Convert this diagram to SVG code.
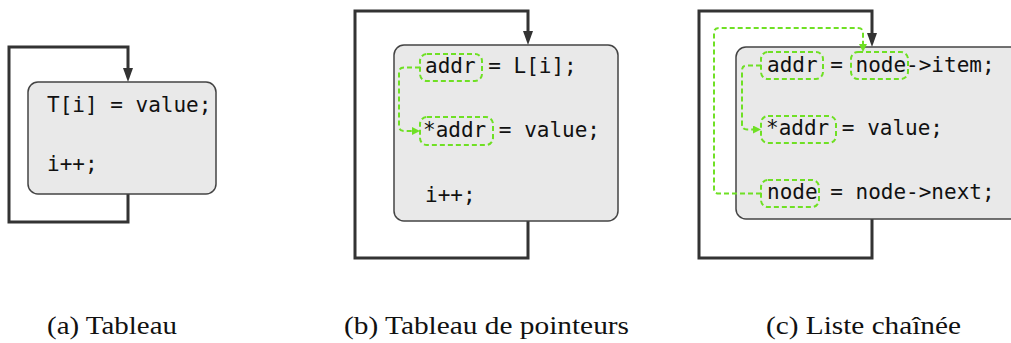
<svg xmlns="http://www.w3.org/2000/svg" width="1011" height="343" viewBox="0 0 1011 343">
<style>
.loop{fill:none;stroke:#333;stroke-width:3}
.box{fill:#e9e9e9;stroke:#444;stroke-width:1.5}
.code{font-family:"DejaVu Sans Mono",monospace;font-size:21px;fill:#111}
.hl{fill:none;stroke:#6fe024;stroke-width:2;stroke-dasharray:5 3}
.link{fill:none;stroke:#6fe024;stroke-width:2;stroke-dasharray:5 3}
.cap{font-family:"Liberation Serif",serif;font-size:25px;fill:#111}
</style>
<defs>
<marker id="ah" markerUnits="userSpaceOnUse" markerWidth="14" markerHeight="10" refX="4" refY="5" orient="auto">
<path d="M0,0 L14,5 L0,10 z" fill="#333"/>
</marker>
<marker id="gh" markerUnits="userSpaceOnUse" markerWidth="8" markerHeight="8" refX="2" refY="4" orient="auto">
<path d="M0,0 L8,4 L0,8 z" fill="#6fe024"/>
</marker>
</defs>
<g id="connectors">
<path class="loop" d="M128,194 V222 H9 V47 H128 V72" marker-end="url(#ah)"/>
<path class="loop" d="M528,221 V258 H355 V11 H528 V35" marker-end="url(#ah)"/>
<path class="loop" d="M872,219 V258 H699 V11 H872 V37" marker-end="url(#ah)"/>
</g>
<g id="node-a">
<rect class="box" x="28" y="82" width="188" height="112" rx="10"/>
<text class="code" x="47" y="112">T[i] = value;</text>
<text class="code" x="47" y="171">i++;</text>
</g>
<g id="node-b">
<rect class="box" x="394" y="45" width="224" height="176" rx="10"/>
<text class="code" x="425" y="73">addr = L[i];</text>
<text class="code" x="423" y="137">*addr = value;</text>
<text class="code" x="425" y="202">i++;</text>
<rect class="hl" x="420" y="54" width="62" height="27" rx="7"/>
<rect class="hl" x="420" y="117" width="73" height="28" rx="7"/>
<path class="link" d="M420,67.5 H404 Q399,67.5 399,72.5 V126 Q399,131 404,131 H414" marker-end="url(#gh)"/>
</g>
<g id="node-c">
<rect class="box" x="736" y="47" width="300" height="172" rx="10"/>
<text class="code" x="767" y="72">addr = node->item;</text>
<text class="code" x="766" y="135">*addr = value;</text>
<text class="code" x="767" y="199">node = node->next;</text>
<rect class="hl" x="761" y="52" width="62" height="27" rx="7"/>
<rect class="hl" x="851" y="52" width="57" height="27" rx="7"/>
<rect class="hl" x="761" y="116" width="75" height="27" rx="7"/>
<rect class="hl" x="761" y="180" width="58" height="27" rx="7"/>
<path class="link" d="M761,65.5 H747 Q742,65.5 742,70.5 V124.5 Q742,129.5 747,129.5 H755" marker-end="url(#gh)"/>
<path class="link" d="M761,193.5 H719 Q714,193.5 714,188.5 V33 Q714,28 719,28 H858 Q863,28 863,33 V46" marker-end="url(#gh)"/>
</g>
<g id="captions">
<text class="cap" x="47" y="334" textLength="130" lengthAdjust="spacingAndGlyphs">(a) Tableau</text>
<text class="cap" x="344" y="334" textLength="285" lengthAdjust="spacingAndGlyphs">(b) Tableau de pointeurs</text>
<text class="cap" x="766" y="334" textLength="195" lengthAdjust="spacingAndGlyphs">(c) Liste chaînée</text>
</g>
</svg>
